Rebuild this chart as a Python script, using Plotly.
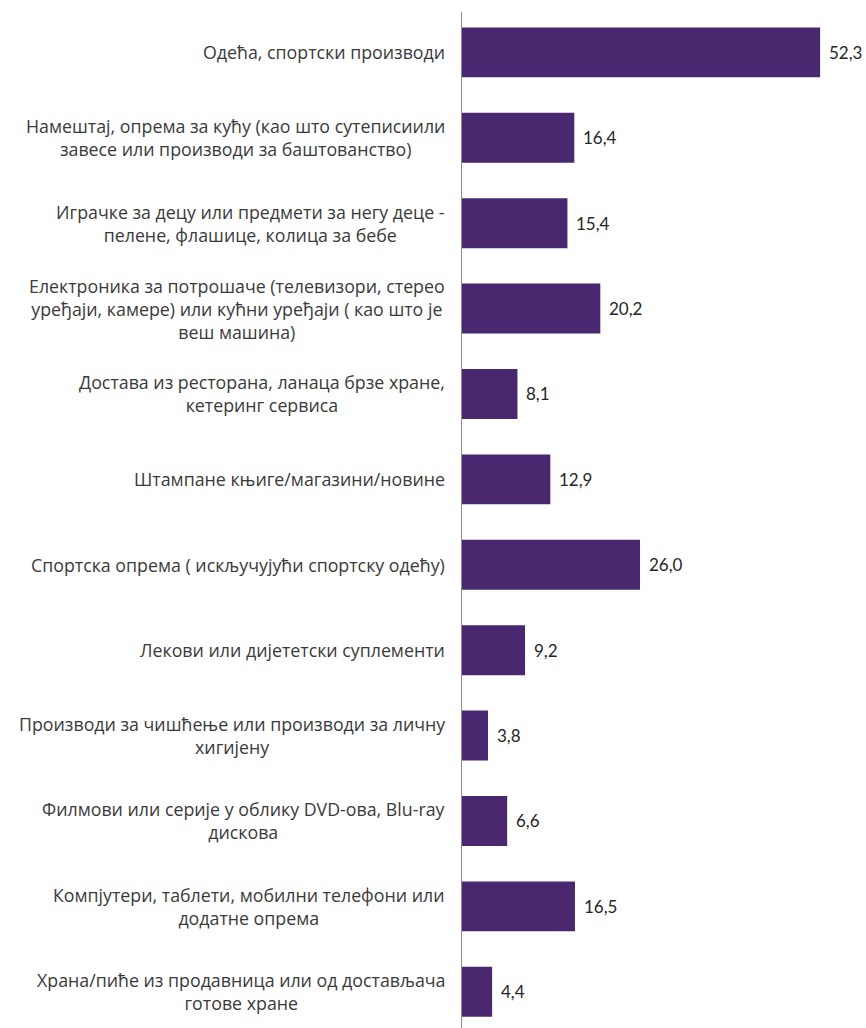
import plotly.graph_objects as go

# Categories, top to bottom (line breaks as set in the labels)
categories = [
    "Одећа, спортски производи",
    "Намештај, опрема за кућу (као што сутеписиили<br>завесе или производи за баштованство)",
    "Играчке за децу или предмети за негу деце -<br>пелене, флашице, колица за бебе",
    "Електроника за потрошаче (телевизори, стерео<br>уређаји, камере) или кућни уређаји ( као што је<br>веш машина)",
    "Достава из ресторана, ланаца брзе хране,<br>кетеринг сервиса",
    "Штампане књиге/магазини/новине",
    "Спортска опрема ( искључујући спортску одећу)",
    "Лекови или дијететски суплементи",
    "Производи за чишћење или производи за личну<br>хигијену",
    "Филмови или серије у облику DVD-ова, Blu-ray<br>дискова",
    "Компјутери, таблети, мобилни телефони или<br>додатне опрема",
    "Храна/пиће из продавница или од достављача<br>готове хране",
]
values = [52.3, 16.4, 15.4, 20.2, 8.1, 12.9, 26.0, 9.2, 3.8, 6.6, 16.5, 4.4]

positions = list(range(len(categories)))

BAR_COLOR = "#4a2870"
LABEL_FONT = "'Open Sans', sans-serif"
VALUE_FONT = "Lato, 'Open Sans', sans-serif"

fig = go.Figure(
    go.Bar(
        x=values,
        y=positions,
        orientation="h",
        marker=dict(color=BAR_COLOR, line=dict(width=0)),
        width=0.585,
        hoverinfo="skip",
    )
)

# Value labels just past the end of each bar
for pos, val in zip(positions, values):
    fig.add_annotation(
        x=val, xref="x", y=pos, yref="y",
        text=f"{val:.1f}".replace(".", ","), showarrow=False,
        xanchor="left", yanchor="middle", xshift=7,
        font=dict(family=VALUE_FONT, size=17, color="#262626"),
    )

# Category labels: right-aligned block, lines centred within it
for pos, label in zip(positions, categories):
    fig.add_annotation(
        x=0, xref="paper", y=pos, yref="y",
        text=label, showarrow=False,
        xanchor="right", yanchor="middle", align="center",
        xshift=-15,
        font=dict(family=LABEL_FONT, size=17.8, color="#3a3a3a"),
    )

fig.update_layout(
    width=866, height=1028,
    margin=dict(l=462, r=0, t=12, b=0),
    paper_bgcolor="white", plot_bgcolor="white",
    showlegend=False,
    xaxis=dict(range=[0, 59.0], visible=False, fixedrange=True),
    yaxis=dict(
        range=[11.424, -0.473],
        showticklabels=False, ticks="",
        showgrid=False, zeroline=False,
        showline=True, linecolor="#8c8c8c", linewidth=1.3,
        fixedrange=True,
    ),
)

fig.write_html("out.html")
